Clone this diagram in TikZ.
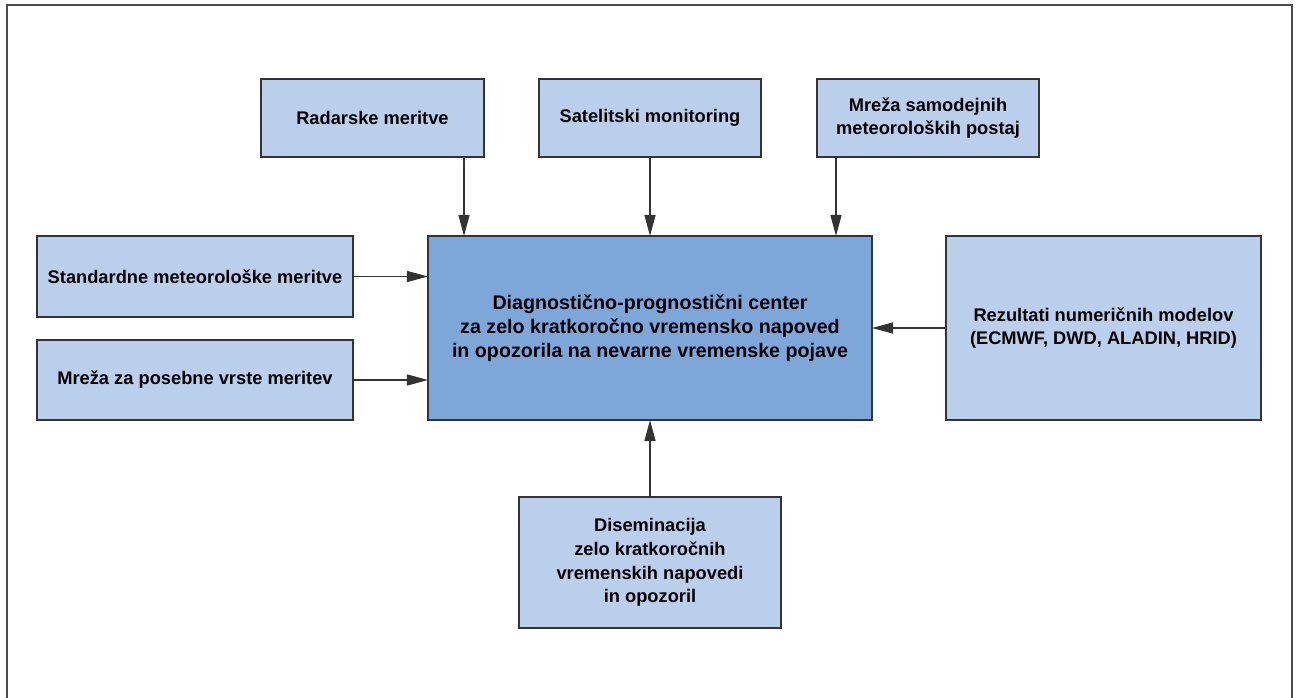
\documentclass[tikz,border=0pt]{standalone}
\usepackage{fontspec}
\setmainfont{Liberation Sans}
\usetikzlibrary{positioning, arrows.meta}
\definecolor{srccol}{rgb}{0.73, 0.81, 0.92}
\definecolor{centrecol}{rgb}{0.49, 0.65, 0.85}
\definecolor{edgecol}{rgb}{0.20, 0.20, 0.22}
\definecolor{framecol}{rgb}{0.30, 0.30, 0.30}
\tikzset{
  srcbox/.style={rectangle, draw=edgecol, fill=srccol, line width=0.6pt,
                 inner sep=0pt, outer sep=0pt, align=center,
                 font=\fontsize{10.4}{13.4}\selectfont\bfseries},
  centrebox/.style={srcbox, fill=centrecol,
                    font=\fontsize{11.2}{13.6}\selectfont\bfseries},
  arr/.style={-{Triangle[length=4.2mm, width=2.2mm]}, line width=0.7pt,
              black!80},
  frameline/.style={draw=framecol, line width=1.1pt},
}
\begin{document}
\begin{tikzpicture}[x=0.2mm, y=-0.2mm]
    \useasboundingbox (0,0) rectangle (1297,698);
    \draw[frameline] (7,698) -- (7,5) -- (1292,5) -- (1292,698);

    % sources
    \node[srcbox, minimum width=44.6mm, minimum height=15.6mm] (radar) at (372.5,118) {Radarske meritve};
    \node[srcbox, minimum width=44.4mm, minimum height=15.6mm] (satellite) at (650,118) {Satelitski monitoring};
    \node[srcbox, minimum width=44.4mm, minimum height=15.6mm] (stations) at (928,118) {Mreža samodejnih\\meteoroloških postaj};
    \node[srcbox, minimum width=63.2mm, minimum height=16.2mm] (standard) at (195,276.5) {Standardne meteorološke meritve};
    \node[srcbox, minimum width=63.2mm, minimum height=16mm] (special) at (195,380) {Mreža za posebne vrste meritev};
    \node[srcbox, minimum width=63mm, minimum height=36.8mm] (models) at (1103.5,328) {Rezultati numeričnih modelov\\(ECMWF, DWD, ALADIN, HRID)};

    % centre
    \node[centrebox, minimum width=88.8mm, minimum height=36.8mm] (centre) at (650,328) {Diagnostično-prognostični center\\za zelo kratkoročno vremensko napoved\\in opozorila na nevarne vremenske pojave};

    % output
    \node[srcbox, minimum width=52.4mm, minimum height=26.2mm] (dissem) at (650,562.5) {Diseminacija\\zelo kratkoročnih\\vremenskih napovedi\\in opozoril};

    % arrows into centre
    \draw[arr] ([xshift=-4mm]radar.south east) -- ([xshift=-4mm]radar.south east |- centre.north);
    \draw[arr] (satellite) -- (centre.north);
    \draw[arr] ([xshift=3.8mm]stations.south west) -- ([xshift=3.8mm]stations.south west |- centre.north);
    \draw[arr] (standard) -- (standard -| centre.west);
    \draw[arr] (special) -- (special -| centre.west);
    \draw[arr] (models) -- (models -| centre.east);
    \draw[arr] (dissem) -- (centre.south);
\end{tikzpicture}
\end{document}
